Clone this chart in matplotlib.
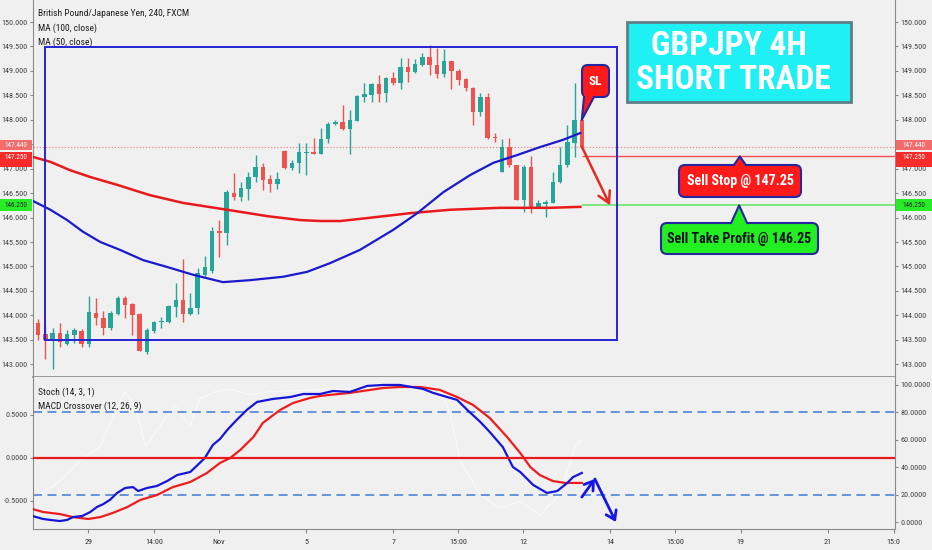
import numpy as np
import matplotlib
matplotlib.use('Agg')
import matplotlib.pyplot as plt
from matplotlib import font_manager
from matplotlib.patches import FancyBboxPatch, Polygon, Rectangle
from matplotlib.ticker import FormatStrFormatter, FuncFormatter

# ---- data (bar index = 4h candles) ----
opens = [143.85, 143.62, 143.49, 143.63, 143.41, 143.60, 143.69, 143.42, 144.05, 143.95,
         143.74, 144.03, 144.35, 144.23, 144.02, 143.26, 143.69, 143.86, 143.87, 144.17,
         144.31, 144.02, 144.16, 144.83, 144.90, 145.73, 145.69, 146.51, 146.43, 146.58,
         146.82, 147.04, 146.79, 146.68, 147.37, 147.01, 147.11, 147.32, 147.35, 147.31,
         147.61, 147.91, 147.96, 147.81, 147.98, 148.47, 148.51, 148.73, 148.54, 148.85,
         148.75, 149.07, 148.98, 149.13, 149.29, 149.13, 148.93, 149.21, 149.00, 148.83,
         148.66, 148.15, 148.46, 147.65, 146.94, 147.45, 147.08, 146.36, 147.04, 146.21,
         146.28, 146.29, 146.73, 147.08, 147.53, 148.00]
highs = [143.92, 143.78, 143.74, 143.85, 143.70, 143.74, 143.72, 144.40, 144.35, 144.08,
         144.08, 144.40, 144.40, 144.25, 144.04, 143.74, 143.89, 143.97, 144.21, 144.66,
         145.15, 144.45, 144.96, 145.21, 145.80, 145.96, 146.56, 146.91, 146.73, 146.94,
         147.28, 147.11, 146.87, 146.94, 147.38, 147.18, 147.53, 147.53, 147.62, 147.83,
         147.96, 148.00, 148.30, 148.20, 148.50, 148.75, 148.76, 148.92, 148.88, 148.98,
         149.26, 149.26, 149.24, 149.36, 149.53, 149.46, 149.44, 149.21, 149.03, 148.85,
         148.68, 148.54, 148.54, 147.74, 147.60, 147.62, 147.08, 147.08, 147.25, 146.37,
         146.36, 146.94, 147.45, 147.89, 148.75, 148.00]
lows = [143.50, 143.10, 142.90, 143.36, 143.39, 143.43, 143.36, 143.35, 143.80, 143.60,
        143.70, 144.01, 143.95, 143.60, 143.27, 143.21, 143.64, 143.74, 143.84, 143.97,
        143.87, 144.01, 144.02, 144.81, 144.87, 145.19, 145.44, 146.36, 146.33, 146.36,
        146.73, 146.56, 146.53, 146.58, 146.99, 146.97, 146.91, 146.87, 147.30, 147.30,
        147.52, 147.89, 147.79, 147.31, 147.97, 148.37, 148.37, 148.37, 148.37, 148.72,
        148.64, 148.78, 148.95, 149.10, 148.92, 148.85, 148.88, 148.64, 148.71, 148.58,
        147.89, 148.07, 147.60, 147.55, 146.94, 147.04, 146.36, 146.12, 146.09, 146.20,
        146.02, 146.29, 146.70, 147.04, 147.24, 147.45]
closes = [143.60, 143.50, 143.65, 143.45, 143.61, 143.70, 143.42, 144.06, 143.94, 143.74,
          144.04, 144.35, 144.21, 144.01, 143.27, 143.70, 143.87, 143.89, 144.19, 144.31,
          144.03, 144.16, 144.86, 144.98, 145.73, 145.69, 146.53, 146.43, 146.60, 146.82,
          147.04, 146.77, 146.68, 146.79, 147.01, 147.12, 147.34, 147.35, 147.31, 147.61,
          147.91, 147.96, 147.81, 148.00, 148.49, 148.52, 148.73, 148.53, 148.85, 148.75,
          149.07, 148.98, 149.15, 149.29, 149.12, 148.93, 149.21, 149.00, 148.81, 148.66,
          148.15, 148.46, 147.62, 147.62, 147.45, 147.08, 146.36, 147.04, 146.22, 146.29,
          146.31, 146.73, 147.08, 147.55, 148.00, 147.45]

ma100_x = [-0.7, 1.7, 4.4, 7.2, 10.9, 15.4, 20.0, 26.1, 31.6, 36.1, 38.9, 41.7, 45.4, 51.3, 56.8, 63.7, 70.6, 74.8]
ma100_y = [147.24, 147.14, 146.97, 146.83, 146.67, 146.46, 146.30, 146.16, 146.03, 145.95, 145.93, 145.93,
           145.99, 146.09, 146.16, 146.20, 146.20, 146.22]
ma50_x = [-0.7, 1.7, 4.0, 6.2, 8.6, 11.3, 14.5, 17.8, 21.4, 25.5, 29.2, 33.8, 37.1, 40.3, 44.4, 49.0,
          52.3, 55.9, 59.6, 62.8, 66.1, 69.2, 72.4, 74.8]
ma50_y = [146.34, 146.16, 145.95, 145.71, 145.50, 145.34, 145.13, 144.99, 144.83, 144.68, 144.72, 144.79,
          144.89, 145.07, 145.34, 145.75, 146.09, 146.52, 146.87, 147.12, 147.28, 147.44, 147.59, 147.73]

macd_x = [-0.8, 0.7, 1.7, 3.0, 4.0, 4.8, 6.1, 7.2, 8.1, 9.0, 9.9, 10.9, 12.0, 13.1, 13.8, 15.0, 16.4, 17.8,
          19.2, 21.0, 22.3, 23.0, 24.1, 25.1, 26.1, 27.4, 28.8, 30.2, 32.4, 34.8, 36.6, 38.9, 40.7, 43.0,
          45.4, 47.6, 49.9, 53.1, 54.5, 55.9, 57.8, 59.2, 61.0, 62.3, 64.1, 65.5, 66.5, 68.3, 70.2, 71.6,
          73.0, 73.8, 75.0]
macd_v = [4.4, 2.2, 1.5, 0.7, 1.5, 3.6, 4.4, 7.3, 10.9, 13.1, 16.1, 21.2, 24.8, 25.5, 22.6, 24.8, 26.3, 29.9,
          34.3, 36.5, 43.1, 46.7, 56.2, 60.6, 67.2, 74.5, 81.8, 87.6, 89.8, 91.2, 93.4, 93.4, 95.6, 94.9,
          99.3, 100.0, 100.0, 97.1, 94.2, 92.0, 89.1, 81.8, 73.0, 65.7, 54.7, 40.1, 36.5, 27.0, 21.2, 22.6,
          28.5, 32.8, 35.8]
signal_x = [-0.8, 0.7, 3.0, 4.8, 6.9, 8.6, 10.3, 12.3, 14.1, 16.4, 18.6, 21.0, 23.3, 25.1, 26.5, 27.9, 29.7,
            31.0, 33.4, 35.2, 37.5, 38.9, 43.0, 47.6, 49.9, 52.7, 55.4, 57.8, 60.0, 62.3, 64.7, 66.5, 67.9,
            69.2, 71.0, 72.7, 75.0]
signal_v = [9.5, 7.3, 5.8, 3.6, 2.2, 3.6, 6.6, 10.9, 16.1, 19.7, 25.5, 29.2, 35.8, 43.1, 46.7, 52.6, 62.0,
            72.3, 81.8, 86.9, 90.5, 92.0, 94.2, 97.8, 98.5, 98.5, 96.4, 91.2, 85.4, 75.9, 62.0, 50.4, 40.1,
            34.3, 29.9, 28.5, 28.5]
stoch_x = [0.3, 3.0, 5.8, 8.6, 10.6, 12.0, 13.4, 14.8, 16.8, 18.9, 21.0, 22.3, 24.4, 26.5, 29.2, 32.0, 36.1,
           43.0, 49.9, 55.4, 56.8, 58.2, 61.0, 63.7, 66.5, 69.2, 72.0, 74.1, 75.0]
stoch_v = [20, 30, 45, 55, 80, 95, 85, 55, 70, 85, 70, 90, 95, 97, 93, 95, 96, 97, 98, 97, 80, 45, 20, 10,
           15, 5, 20, 55, 60]

tick_pos = [6.9, 16.0, 24.9, 37.0, 49.0, 57.9, 66.9, 78.9, 87.9, 96.9, 108.9, 118.0]
tick_lab = ['29', '14:00', 'Nov', '5', '7', '15:00', '12', '14', '15:00', '19', '21', '15:0']

last_price = 147.44
sell_stop = 147.25
take_profit = 146.25

# ---- fonts: the screenshot text is narrow, so take a condensed face if there is one ----
prefer = ['Liberation Sans Narrow', 'Roboto Condensed', 'Open Sans Condensed', 'Noto Sans Condensed',
          'DejaVu Sans', 'Noto Sans', 'Roboto', 'Open Sans', 'Liberation Sans']
found = {}
for f in font_manager.fontManager.ttflist:
    if f.style != 'normal':
        continue
    if f.stretch != 'normal' or 'Narrow' in f.name or 'Condensed' in f.name:
        found.setdefault(f.name, f.stretch)
family, stretch = 'Liberation Sans', 'normal'
for name in prefer:
    if name in found:
        family, stretch = name, found[name]
        break
plt.rcParams['font.family'] = [family, 'DejaVu Sans']
plt.rcParams['font.stretch'] = stretch

W, H = 932, 550
BG = '#f0f0f0'
GREEN, RED = '#26a69a', '#ef5350'

fig = plt.figure(figsize=(W / 100, H / 100), dpi=100, facecolor=BG)
renderer = fig.canvas.get_renderer()


def fit(size, sample, target, weight='normal'):
    t = fig.text(0, 0, sample, fontsize=size, fontweight=weight)
    w = t.get_window_extent(renderer).width
    t.remove()
    return size * min(1.0, target / w)


fs_tick = fit(7.2, '150.000', 26)
fs_tick4 = fit(7.2, '100.0000', 30)
fs_x = fit(8.0, '14:00', 18)
fs_leg = fit(8.2, 'British Pound/Japanese Yen, 240, FXCM', 150)
fs_call = fit(11.5, 'Sell Take Profit @ 146.25', 144, 'bold')
fs_title = fit(24, 'SHORT TRADE', 203, 'bold')

ax = fig.add_axes([33 / W, 1 - 377 / H, 862 / W, 377 / H], facecolor=BG)
axl = fig.add_axes([33 / W, 1 - 529 / H, 862 / W, 152 / H], facecolor=BG, sharex=ax)
axm = axl.twinx()

# candles
x = np.arange(len(opens))
o, h, l, c = map(np.array, (opens, highs, lows, closes))
cols = np.where(c >= o, GREEN, RED)
ax.vlines(x, l, h, colors=cols, lw=1, zorder=2)
body = np.maximum(np.abs(c - o), 0.025)
ax.bar(x, body, bottom=np.minimum(o, c), width=0.62, color=cols, zorder=3)

ax.plot(ma100_x, ma100_y, color='#e8191b', lw=1.8, zorder=4)
ax.plot(ma50_x, ma50_y, color='#1a1acc', lw=1.6, zorder=4)

ax.axhline(last_price, color='#f08a8a', ls=(0, (1, 1.5)), lw=0.9, zorder=1)
ax.hlines(sell_stop, 75, 118.2, color='#f25050', lw=1.0, zorder=1)
ax.hlines(take_profit, 75, 118.2, color='#7ee87e', lw=1.4, zorder=1)
ax.add_patch(Rectangle((0.97, 143.50), 79.86 - 0.97, 149.49 - 143.50, fill=False,
                       ec='#2424d6', lw=1.4, zorder=5))
ax.annotate('', xy=(78.9, take_profit), xytext=(75.0, 147.45),
            arrowprops=dict(arrowstyle='->,head_length=0.8,head_width=0.45', color='#e32b22',
                            lw=1.8, shrinkA=0, shrinkB=0), zorder=6)

ax.set_xlim(-0.7, 118.2)
ax.set_ylim(142.74, 150.45)
ax.set_yticks(np.arange(143.0, 150.01, 0.5))
# 147.500 sits under the last-price tag in the screenshot, so it is not shown
ax.yaxis.set_major_formatter(FuncFormatter(lambda v, p: '' if abs(v - 147.5) < 1e-6 else '%.3f' % v))
ax.tick_params(axis='y', left=True, right=True, labelleft=True, labelright=True,
               length=2.5, width=0.8, color='#888888', labelsize=fs_tick, labelcolor='#444444', pad=1.5)
ax.tick_params(axis='x', bottom=False, labelbottom=False)
for s in ('left', 'right', 'bottom'):
    ax.spines[s].set_color('#8a8a8a')
ax.spines['top'].set_visible(False)
ax.spines['bottom'].set_linewidth(1.2)

# lower panel: MACD crossover lines on the 0-100 scale, stoch drawn faint
axl.plot(stoch_x, stoch_v, color='white', lw=0.8, alpha=0.6, zorder=1)
axl.axhline(80, color='#5b8dd9', ls=(0, (5, 3)), lw=1.3, zorder=2)
axl.axhline(20, color='#5b8dd9', ls=(0, (5, 3)), lw=1.3, zorder=2)
axl.plot(signal_x, signal_v, color='#ee1d1d', lw=1.6, zorder=4)
axl.plot(macd_x, macd_v, color='#1616d8', lw=1.6, zorder=4)
arrow = dict(arrowstyle='->,head_length=0.6,head_width=0.4', color='#1515e6', lw=2,
             shrinkA=0, shrinkB=0)
axl.annotate('', xy=(76.8, 31.4), xytext=(75.0, 18.2), arrowprops=arrow)
axl.annotate('', xy=(79.7, 0.0), xytext=(76.8, 31.4), arrowprops=arrow)

axl.set_ylim(-5.1, 105.8)
axl.set_yticks(np.arange(0, 101, 20))
axl.yaxis.set_major_formatter(FormatStrFormatter('%.4f'))
axl.yaxis.tick_right()
axl.tick_params(axis='y', left=False, labelleft=False, right=True, labelright=True,
                length=2.5, width=0.8, color='#888888', labelsize=fs_tick4, labelcolor='#444444', pad=1.5)
axl.set_xticks(tick_pos)
axl.set_xticklabels(tick_lab)
axl.tick_params(axis='x', length=3, width=0.8, color='#888888', labelsize=fs_x,
                labelcolor='#333333', pad=4)
for s in ('left', 'right', 'bottom'):
    axl.spines[s].set_color('#8a8a8a')
axl.spines['top'].set_visible(False)

axm.set_ylim(-0.831, 0.936)
axm.axhline(0, color='#e81c1c', lw=1.6, zorder=3)
axm.yaxis.tick_left()
axm.set_yticks([-0.5, 0.0, 0.5])
axm.yaxis.set_major_formatter(FormatStrFormatter('%.4f'))
axm.tick_params(axis='y', left=True, labelleft=True, right=False, labelright=False,
                length=2.5, width=0.8, color='#888888', labelsize=fs_tick4, labelcolor='#444444', pad=1.5)
for s in axm.spines.values():
    s.set_visible(False)

# ---- overlay in pixel coordinates for labels and callouts ----
ov = fig.add_axes([0, 0, 1, 1])
ov.set_xlim(0, W)
ov.set_ylim(H, 0)
ov.axis('off')
ov.patch.set_visible(False)


def to_px(axis, xv, yv):
    dx, dy = axis.transData.transform((xv, yv))
    return dx, H - dy


# indicator legends
for ty, txt in [(14, 'British Pound/Japanese Yen, 240, FXCM'), (28, 'MA (100, close)'),
                (42, 'MA (50, close)'), (392, 'Stoch (14, 3, 1)'), (406, 'MACD Crossover (12, 26, 9)')]:
    ov.text(38, ty, txt, fontsize=fs_leg, color='#1e1e1e', va='center', ha='left')

# price tags on both scales (the two red tags sit nearly on top of each other)
for price, face, tcol, top, hgt, dy in [(last_price, '#f36c6c', 'white', -7, 10, -2),
                                        (sell_stop, '#f82b2b', 'white', -4.5, 15, 1),
                                        (take_profit, '#27ec27', '#222222', -6, 12, 0)]:
    _, py = to_px(ax, 0, price)
    for x0, wd in [(0, 32), (896, 36)]:
        ov.add_patch(Rectangle((x0, py + top), wd, hgt, fc=face, ec='none', zorder=2))
        ov.text(x0 + wd / 2, py + dy, '%.3f' % price, fontsize=fs_tick * 0.88, color=tcol,
                ha='center', va='center', zorder=3)


def callout(box, base, apex, face, edge, label, tcol, size):
    x0, y0, x1, y1 = box
    ov.add_patch(FancyBboxPatch((x0, y0), x1 - x0, y1 - y0, boxstyle='round,pad=0,rounding_size=6',
                                fc=face, ec=edge, lw=1.5, zorder=3))
    bx0, bx1, by = base
    inward = 3 if by == y0 else -3
    ov.add_patch(Polygon([(bx0, by + inward), (bx0, by), apex, (bx1, by), (bx1, by + inward)],
                         closed=True, fc=face, ec='none', zorder=4))
    ov.plot([bx0, apex[0], bx1], [by, apex[1], by], color=edge, lw=1.5, zorder=5)
    ov.text((x0 + x1) / 2, (y0 + y1) / 2 + 0.5, label, fontsize=size, fontweight='bold', color=tcol,
            ha='center', va='center', zorder=6)


edge = '#26269e'
ss_apex = to_px(ax, 96.8, sell_stop)
callout((679, 165, 801, 197), (ss_apex[0] - 6, ss_apex[0] + 6, 165), ss_apex, '#ff1a1a', edge,
        'Sell Stop @ 147.25', 'white', fs_call)
tp_apex = to_px(ax, 96.7, take_profit)
callout((661, 223, 818, 254), (tp_apex[0] - 8, tp_apex[0] + 8, 223), tp_apex, '#22ee22', edge,
        'Sell Take Profit @ 146.25', '#111122', fs_call)
sl_apex = to_px(ax, 75.0, 148.0)
callout((582, 65, 609, 97), (584, 594, 97), sl_apex, '#ff1a1a', edge, 'SL', 'white', fs_call * 0.95)

# title box
ov.add_patch(Rectangle((627, 22), 224, 80, fc='#1ff0f4', ec='#5f7f88', lw=2, zorder=3))
ov.text(729, 46, 'GBPJPY 4H', fontsize=fs_title, fontweight='bold', color='white',
        ha='center', va='center', zorder=4)
ov.text(733, 80, 'SHORT TRADE', fontsize=fs_title, fontweight='bold', color='white',
        ha='center', va='center', zorder=4)

fig.savefig('out.png', dpi=100, facecolor=BG)
